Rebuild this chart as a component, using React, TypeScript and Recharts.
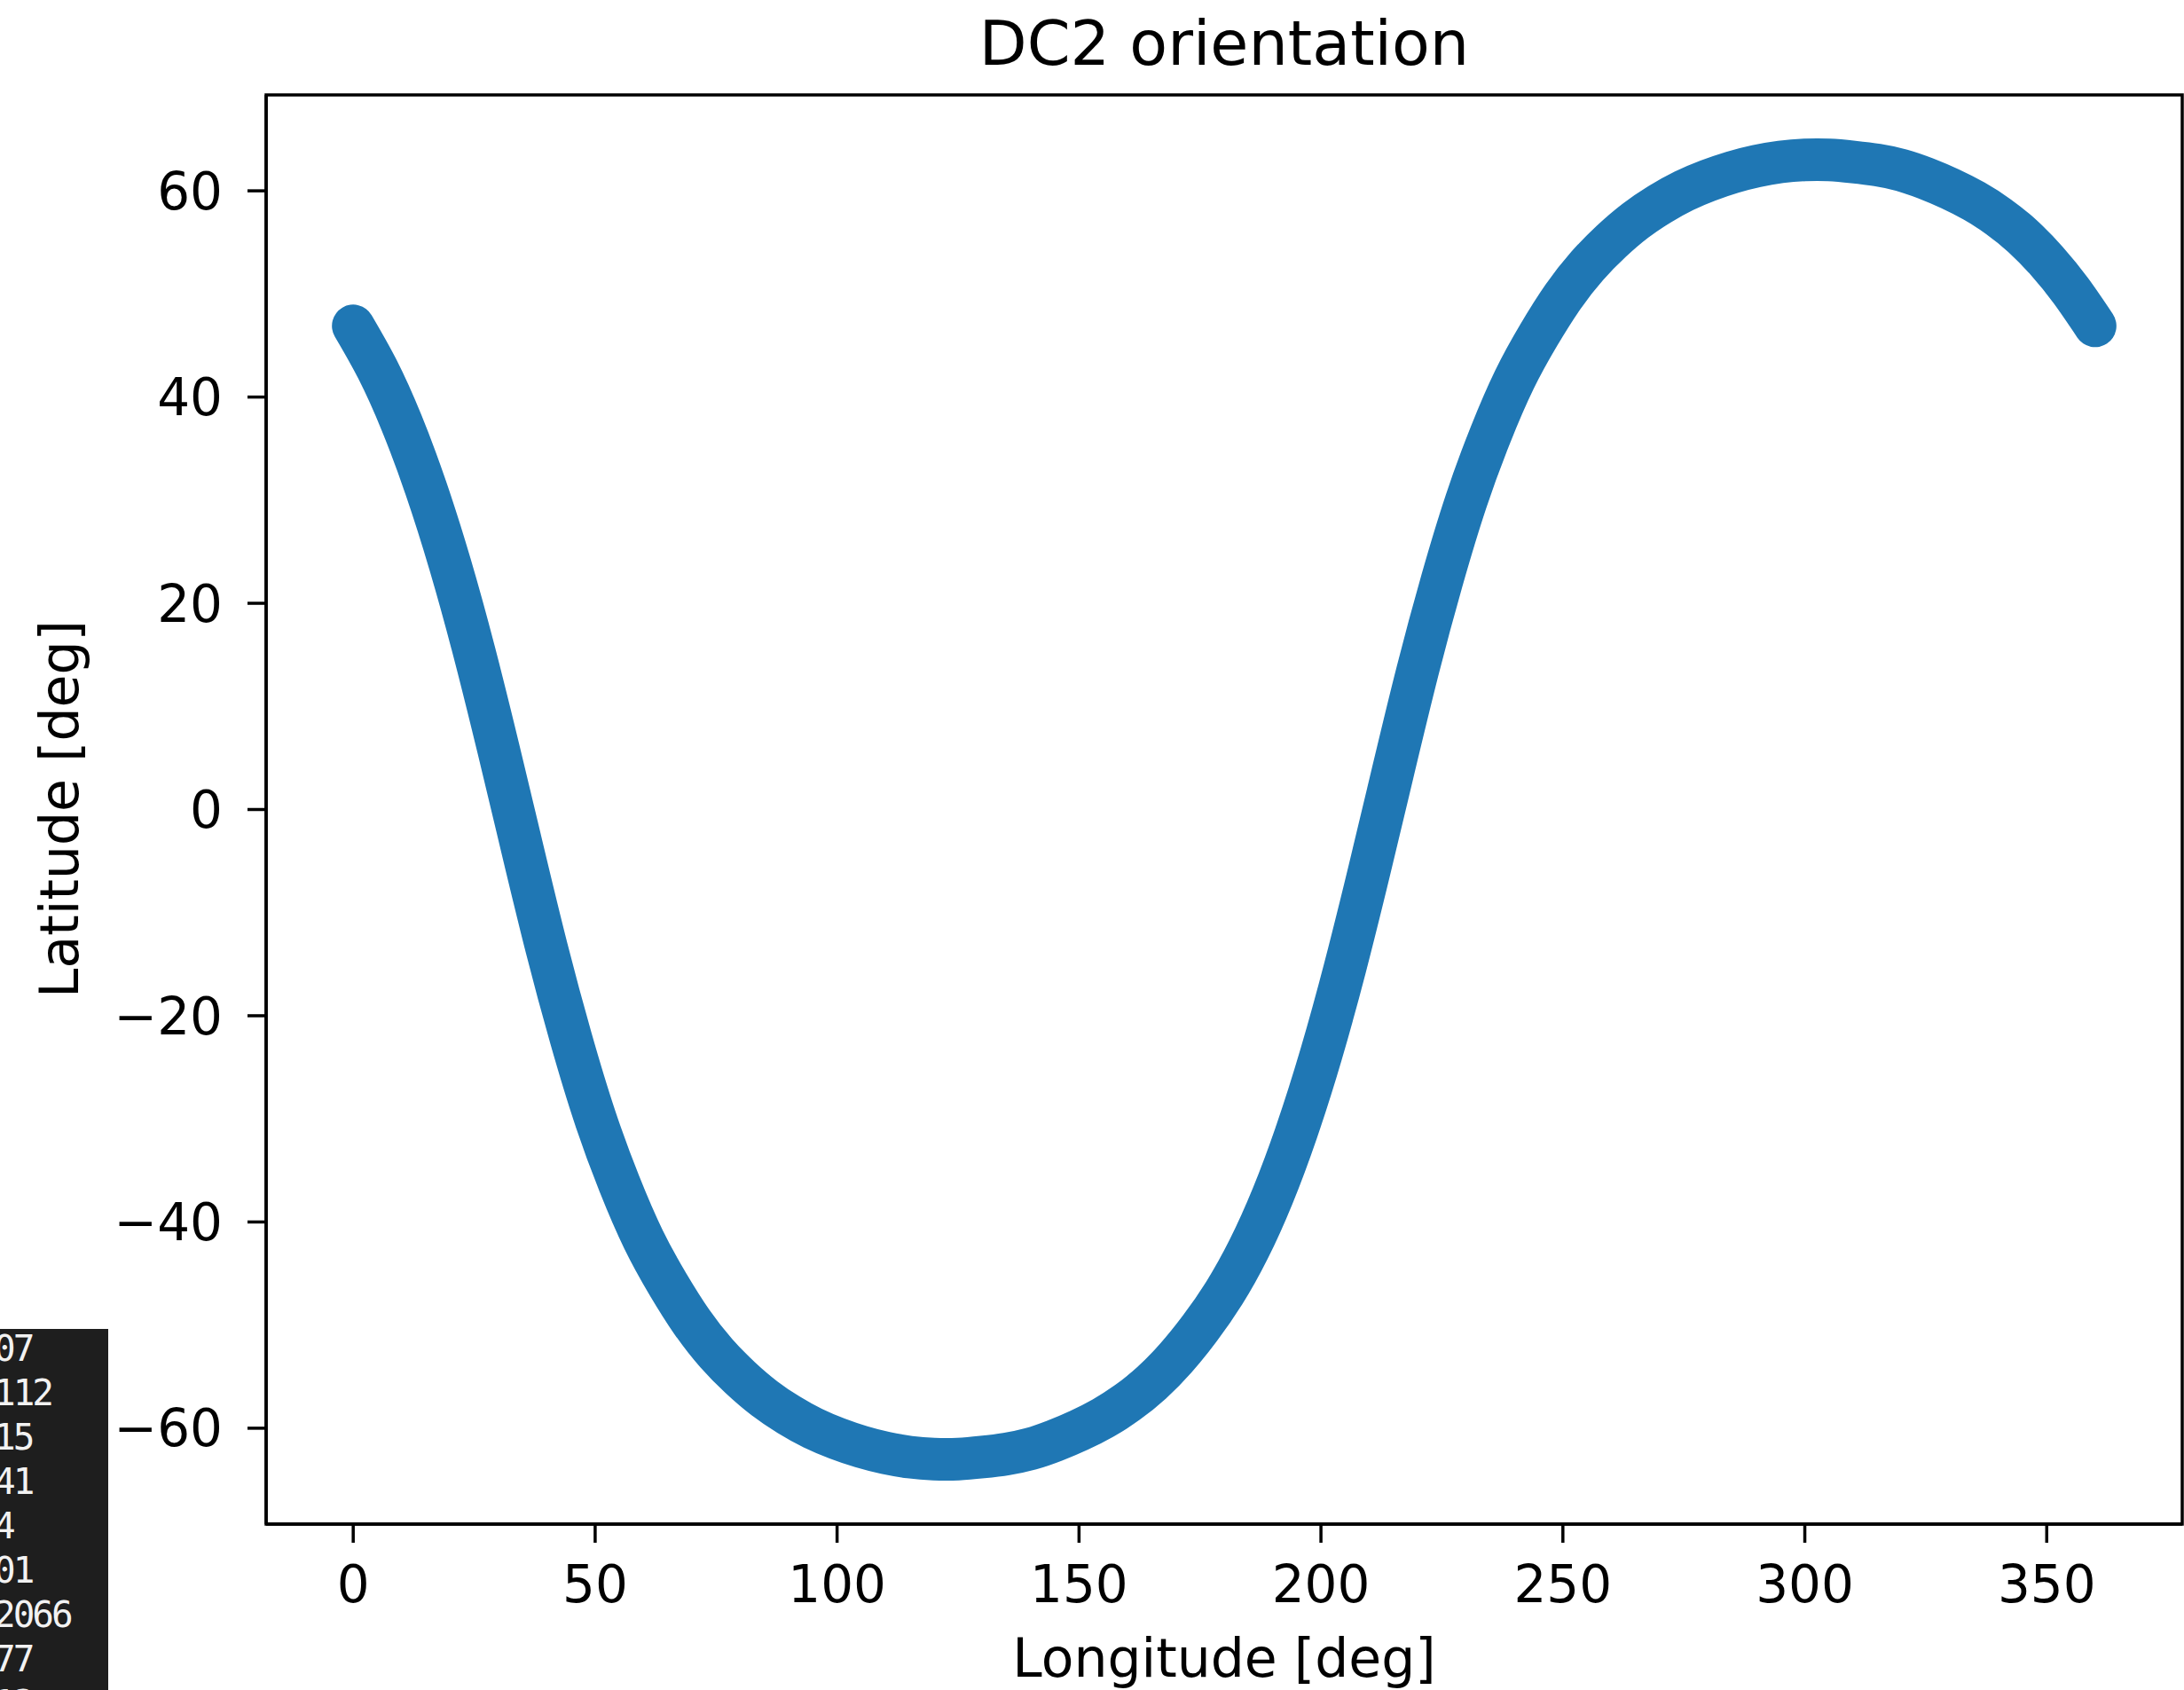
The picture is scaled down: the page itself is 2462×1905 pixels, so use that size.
import React from 'react';
import { LineChart, Line, XAxis, YAxis, ReferenceArea } from 'recharts';

const lonDeg = [
  0, 5, 10, 15, 20, 25, 30, 35, 40, 45, 50, 55, 60, 65, 70, 75, 80, 85, 90, 95,
  100, 105, 110, 115, 120, 125, 130, 135, 140, 145, 150, 155, 160, 165, 170,
  175, 180, 185, 190, 195, 200, 205, 210, 215, 220, 225, 230, 235, 240, 245,
  250, 255, 260, 265, 270, 275, 280, 285, 290, 295, 300, 305, 310, 315, 320,
  325, 330, 335, 340, 345, 350, 355, 360,
];
const latDeg = [
  46.9, 42.7, 37.5, 31.2, 23.8, 15.3, 5.9, -3.9, -13.5, -22.2, -29.9, -36.3,
  -41.7, -46.0, -49.7, -52.7, -55.1, -57.1, -58.7, -60.0, -61.0, -61.8, -62.4,
  -62.8, -63.0, -63.0, -62.8, -62.5, -62.0, -61.2, -60.2, -59.0, -57.5, -55.6,
  -53.2, -50.3, -46.9, -42.7, -37.5, -31.2, -23.8, -15.3, -5.9, 3.9, 13.5,
  22.2, 29.9, 36.3, 41.7, 46.0, 49.7, 52.7, 55.1, 57.1, 58.7, 60.0, 61.0, 61.8,
  62.4, 62.8, 63.0, 63.0, 62.8, 62.5, 62.0, 61.2, 60.2, 59.0, 57.5, 55.6, 53.2,
  50.3, 46.9,
];

const xTicks = [0, 50, 100, 150, 200, 250, 300, 350];
const yTicks = [-60, -40, -20, 0, 20, 40, 60];
const xDomain = [-18, 378];
const yDomain = [-69.3, 69.3];

// bits of a terminal window peeking in at the bottom left
const termLines = ['07', '112', '15', '41', '4', '01', '2066', '77', '12'];

const data = lonDeg.map((lon, i) => ({ lon, lat: latDeg[i] }));

const W = 2462;
const H = 1905;
const font = 'DejaVu Sans, sans-serif';
const minus = (v: number) => String(v).replace('-', '\u2212');

export default function App() {
  return (
    <div style={{ position: 'absolute', left: 0, top: 0, width: W, height: H, background: '#fff' }}>
      <LineChart
        width={W}
        height={H}
        data={data}
        margin={{ top: 107, right: 2, bottom: 67, left: 0 }}
      >
        <XAxis
          dataKey="lon"
          type="number"
          domain={xDomain}
          ticks={xTicks}
          height={120}
          tickSize={21}
          tickMargin={26}
          stroke="#000"
          strokeWidth={3.5}
          tick={{ fontSize: 58, fill: '#000', fontFamily: font }}
        />
        <YAxis
          type="number"
          domain={yDomain}
          ticks={yTicks}
          width={300}
          tickSize={21}
          tickMargin={28}
          stroke="#000"
          strokeWidth={3.5}
          tickFormatter={minus}
          tick={{ fontSize: 58, fill: '#000', fontFamily: font }}
        />
        <ReferenceArea
          x1={xDomain[0]}
          x2={xDomain[1]}
          y1={yDomain[0]}
          y2={yDomain[1]}
          fill="none"
          stroke="#000"
          strokeWidth={3.5}
          ifOverflow="visible"
        />
        <Line
          type="natural"
          dataKey="lat"
          stroke="#1f77b4"
          strokeWidth={48}
          strokeLinecap="round"
          strokeLinejoin="round"
          dot={false}
          activeDot={false}
          isAnimationActive={false}
        />
      </LineChart>

      <svg
        width={W}
        height={H}
        style={{ position: 'absolute', left: 0, top: 0, pointerEvents: 'none' }}
      >
        <text x={1380} y={73} fontSize={70} fontFamily={font} textAnchor="middle" fill="#000">
          DC2 orientation
        </text>
        <text x={1380} y={1890} fontSize={60} fontFamily={font} textAnchor="middle" fill="#000">
          Longitude [deg]
        </text>
        <text
          x={0}
          y={0}
          fontSize={60}
          fontFamily={font}
          textAnchor="middle"
          fill="#000"
          transform="translate(88 912) rotate(-90)"
        >
          Latitude [deg]
        </text>
      </svg>

      <div
        style={{
          position: 'absolute',
          left: 0,
          top: 1498,
          width: 122,
          height: H - 1498,
          background: '#1e1e1e',
          overflow: 'hidden',
        }}
      >
        <div
          style={{
            position: 'absolute',
            left: -7,
            top: -3,
            fontFamily: 'DejaVu Sans Mono, monospace',
            fontSize: 41,
            lineHeight: '50px',
            letterSpacing: -3,
            color: '#f2f2f2',
            whiteSpace: 'pre',
          }}
        >
          {termLines.map((t) => (
            <div key={t}>{t}</div>
          ))}
        </div>
      </div>
    </div>
  );
}
